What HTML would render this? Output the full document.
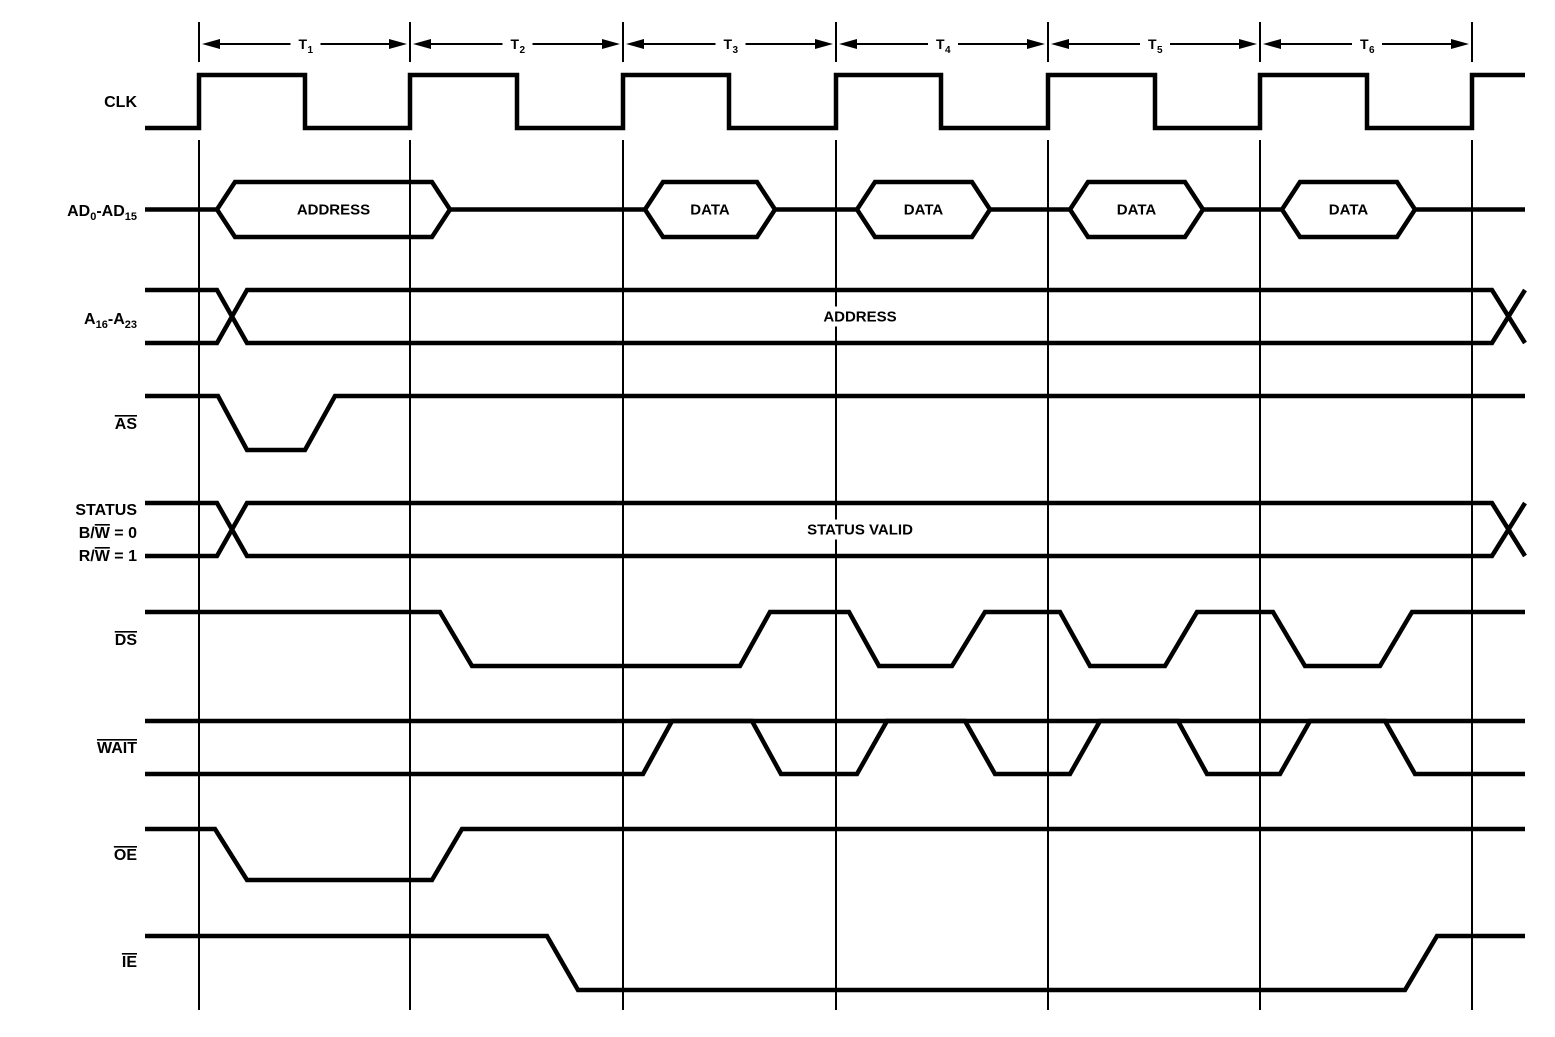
<!DOCTYPE html>
<html><head><meta charset="utf-8"><style>
html,body{margin:0;padding:0;background:#fff;}
svg{display:block;}
text{font-family:"Liberation Sans",sans-serif;font-weight:bold;fill:#000;}
</style></head><body>
<svg id="chart" width="1555" height="1037" viewBox="0 0 1555 1037" xmlns="http://www.w3.org/2000/svg">
<g id="grid"></g>
<g id="periods"></g>
<g id="sigs"></g>
<g id="labels"></g>
</svg>
<script>
const NS="http://www.w3.org/2000/svg";
const periodEdges=[199,410,623,836,1048,1260,1472];
const periodLabels=["1","2","3","4","5","6"];
const xStart=145, xEnd=1525;
const clkPts=[[145,0],[199,0],[199,1],[305,1],[305,0],[410,0],[410,1],[517,1],[517,0],[623,0],[623,1],[729,1],[729,0],[836,0],[836,1],[941,1],[941,0],[1048,0],[1048,1],[1155,1],[1155,0],[1260,0],[1260,1],[1367,1],[1367,0],[1472,0],[1472,1],[1525,1]];
const asPts=[[145,1],[218,1],[247,0],[305,0],[335,1],[1525,1]];
const dsPts=[[145,1],[440,1],[472,0],[740,0],[770,1],[849,1],[879,0],[952,0],[985,1],[1060,1],[1090,0],[1165,0],[1197,1],[1273,1],[1305,0],[1380,0],[1412,1],[1525,1]];
const waitPts=[[145,0],[643,0],[672,1],[752,1],[781,0],[857,0],[887,1],[965,1],[995,0],[1070,0],[1100,1],[1178,1],[1207,0],[1280,0],[1310,1],[1385,1],[1415,0],[1525,0]];
const oePts=[[145,1],[215,1],[247,0],[432,0],[462,1],[1525,1]];
const iePts=[[145,1],[547,1],[578,0],[1405,0],[1437,1],[1525,1]];
const adBus=[[217,450,"ADDRESS"],[645,775,"DATA"],[857,990,"DATA"],[1070,1203,"DATA"],[1282,1415,"DATA"]];
const rows={clk:[75,128],ad:[182,237],a16:[290,343],as:[396,450],st:[503,556],ds:[612,666],wait:[721,774],oe:[829,880],ie:[936,990]};
function el(t,a,p){const e=document.createElementNS(NS,t);for(const k in a)e.setAttribute(k,a[k]);p.appendChild(e);return e;}
const grid=document.getElementById('grid'),per=document.getElementById('periods'),sigs=document.getElementById('sigs'),labs=document.getElementById('labels');
periodEdges.forEach((x,i)=>{
  const l=el('line',{x1:x,y1:22,x2:x,y2:62,stroke:'#000','stroke-width':2},grid);
  
  
  const l2=el('line',{x1:x,y1:140,x2:x,y2:1010,stroke:'#000','stroke-width':2},grid);
  
  
});
periodLabels.forEach((s,i)=>{
  const a=periodEdges[i]+3,b=periodEdges[i+1]-3,m=(a+b)/2,y=44;
  const g=el('g',{},per);
  
  
  el('line',{x1:a+14,y1:y,x2:m-14,y2:y,stroke:'#000','stroke-width':2},g);
  el('line',{x1:m+16,y1:y,x2:b-14,y2:y,stroke:'#000','stroke-width':2},g);
  el('polygon',{points:`${a},${y} ${a+18},${y-5} ${a+18},${y+5}`,fill:'#000'},g);
  el('polygon',{points:`${b},${y} ${b-18},${y-5} ${b-18},${y+5}`,fill:'#000'},g);
  const t=el('text',{x:m-6,y:y+5,'font-size':14,'font-weight':'normal'},g);t.textContent='T';
  const sub=el('text',{x:m+3,y:y+9,'font-size':10},g);sub.textContent=s;
});
function wave(pts,row,name){
  const [hi,lo]=rows[row];
  const p=el('polyline',{points:pts.map(q=>q[0]+','+(q[1]?hi:lo)).join(' '),fill:'none',stroke:'#000','stroke-width':4.5,'stroke-linejoin':'miter'},sigs);
  
  
}
wave(clkPts,'clk','clk-wave');wave(asPts,'as','as-wave');wave(dsPts,'ds','ds-wave');
wave(waitPts,'wait','wait-wave');wave(oePts,'oe','oe-wave');wave(iePts,'ie','ie-wave');
const wt=el('line',{x1:xStart,y1:rows.wait[0],x2:xEnd,y2:rows.wait[0],stroke:'#000','stroke-width':4.5},sigs);


function hexBus(row,segs,name){
  const [t,b]=rows[row],m=(t+b)/2,s=18;
  let prev=xStart;
  segs.forEach((sg,i)=>{
    el('line',{x1:prev,y1:m,x2:sg[0],y2:m,stroke:'#000','stroke-width':4.5},sigs);
    const h=el('polygon',{points:`${sg[0]},${m} ${sg[0]+s},${t} ${sg[1]-s},${t} ${sg[1]},${m} ${sg[1]-s},${b} ${sg[0]+s},${b}`,fill:'none',stroke:'#000','stroke-width':4.5},sigs);
    
    
    const tx=el('text',{x:(sg[0]+sg[1])/2,y:m+5,'font-size':15,'text-anchor':'middle'},sigs);tx.textContent=sg[2];
    prev=sg[1];
  });
  el('line',{x1:prev,y1:m,x2:xEnd,y2:m,stroke:'#000','stroke-width':4.5},sigs);
}
hexBus('ad',adBus,'ad-bus');
function crossBus(row,label,name){
  const [t,b]=rows[row],m=(t+b)/2;
  const g=el('g',{fill:'none',stroke:'#000','stroke-width':4.5},sigs);
  
  
  el('polyline',{points:`${xStart},${t} 217,${t} 247,${b} 1492,${b} 1525,${t}`},g);
  el('polyline',{points:`${xStart},${b} 217,${b} 247,${t} 1492,${t} 1525,${b}`},g);
  const w=label.length*10+10;
  el('rect',{x:860-w/2,y:m-10,width:w,height:20,fill:'#fff',stroke:'none'},sigs);
  const tx=el('text',{x:860,y:m+5,'font-size':15,'text-anchor':'middle',stroke:'none',fill:'#000'},sigs);tx.textContent=label;
}
crossBus('a16','ADDRESS','a16-a23-bus');crossBus('st','STATUS VALID','status-bus');
</script>
<svg style="position:absolute;left:0;top:0" width="150" height="1037">
<g font-family="Liberation Sans, sans-serif" font-weight="bold" text-anchor="end" font-size="16">
<text x="137" y="107">CLK</text>
<text x="137" y="216">AD<tspan font-size="11" dy="4">0</tspan><tspan dy="-4">-AD</tspan><tspan font-size="11" dy="4">15</tspan></text>
<text x="137" y="324">A<tspan font-size="11" dy="4">16</tspan><tspan dy="-4">-A</tspan><tspan font-size="11" dy="4">23</tspan></text>
<text x="137" y="429" text-decoration="overline">AS</text>
<text x="137" y="515">STATUS</text>
<text x="137" y="538">B/<tspan text-decoration="overline">W</tspan> = 0</text>
<text x="137" y="561">R/<tspan text-decoration="overline">W</tspan> = 1</text>
<text x="137" y="645" text-decoration="overline">DS</text>
<text x="137" y="753" text-decoration="overline">WAIT</text>
<text x="137" y="860" text-decoration="overline">OE</text>
<text x="137" y="967" text-decoration="overline">IE</text>
</g></svg>
</body></html>
